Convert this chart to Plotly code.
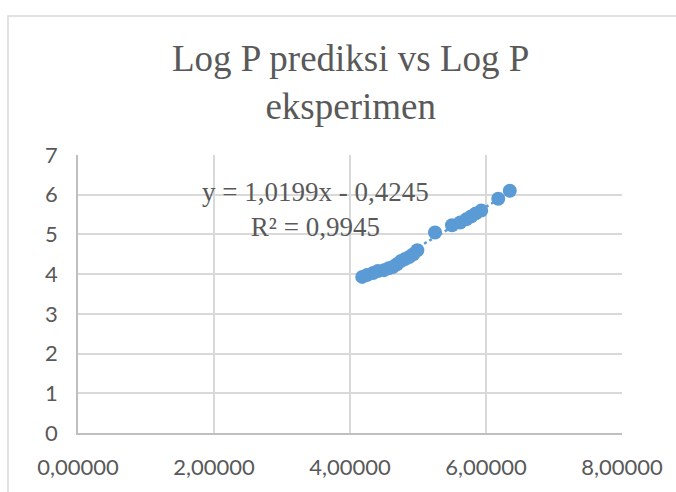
import plotly.graph_objects as go

# Data
log_p_eksperimen = [4.18, 4.25, 4.34, 4.41, 4.50, 4.57, 4.63, 4.69, 4.75, 4.81, 4.87, 4.93, 4.99,
                    5.25, 5.50, 5.62, 5.71, 5.78, 5.85, 5.93, 6.18, 6.35]
log_p_prediksi = [3.93, 3.98, 4.03, 4.08, 4.10, 4.15, 4.18, 4.25, 4.33, 4.38, 4.43, 4.50, 4.60,
                  5.05, 5.23, 5.30, 5.38, 5.45, 5.53, 5.60, 5.90, 6.10]
slope = 1.0199
intercept = -0.4245
x_ticks = [0, 2, 4, 6, 8]
y_ticks = [0, 1, 2, 3, 4, 5, 6, 7]

blue = "#5B9BD5"
grid = "#D9D9D9"
txt = "#595959"

x_line = [min(log_p_eksperimen), max(log_p_eksperimen)]
y_line = [slope * v + intercept for v in x_line]

fig = go.Figure()
fig.add_trace(go.Scatter(x=x_line, y=y_line, mode="lines",
                         line=dict(color=blue, width=2.5, dash="dot"),
                         hoverinfo="skip", showlegend=False))
fig.add_trace(go.Scatter(x=log_p_eksperimen, y=log_p_prediksi, mode="markers",
                         marker=dict(color=blue, size=14, line=dict(width=0)),
                         showlegend=False))

fig.add_annotation(x=3.49, y=5.62, xref="x", yref="y",
                   text="y = 1,0199x - 0,4245<br>R² = 0,9945",
                   showarrow=False, align="center",
                   font=dict(family="Liberation Serif", size=27, color=txt))

fig.add_annotation(x=0.5, y=1.26, xref="paper", yref="paper",
                   xanchor="center", yanchor="middle",
                   text="Log P prediksi vs Log P<br>eksperimen",
                   showarrow=False, align="center",
                   font=dict(family="Liberation Serif", size=37, color=txt))

fig.add_shape(type="rect", xref="paper", yref="paper",
              x0=-0.1287, x1=1.3, y0=-0.4, y1=1.5,
              line=dict(color=grid, width=1.5), fillcolor="rgba(0,0,0,0)", layer="below")

fig.update_layout(
    width=676, height=492,
    margin=dict(l=78, r=54, t=155, b=57),
    paper_bgcolor="white", plot_bgcolor="white",
    separators=",.",
    xaxis=dict(range=[0, 8], tickvals=x_ticks, tickformat=".5f",
               showgrid=True, gridcolor=grid, gridwidth=1.5,
               showline=True, linecolor="#BFBFBF", linewidth=1.5, mirror=False,
               zeroline=False, ticks="", ticklabelstandoff=14,
               tickfont=dict(family="Lato", size=22, color=txt)),
    yaxis=dict(range=[0, 7], tickvals=y_ticks,
               showgrid=True, gridcolor=grid, gridwidth=1.5,
               showline=True, linecolor="#BFBFBF", linewidth=1.5,
               zeroline=False, ticks="", ticklabelstandoff=14,
               tickfont=dict(family="Lato", size=22, color=txt)),
)

fig.write_html("out.html", config={"displayModeBar": False},
               post_script="document.body.style.margin='0';document.body.style.padding='0';")
